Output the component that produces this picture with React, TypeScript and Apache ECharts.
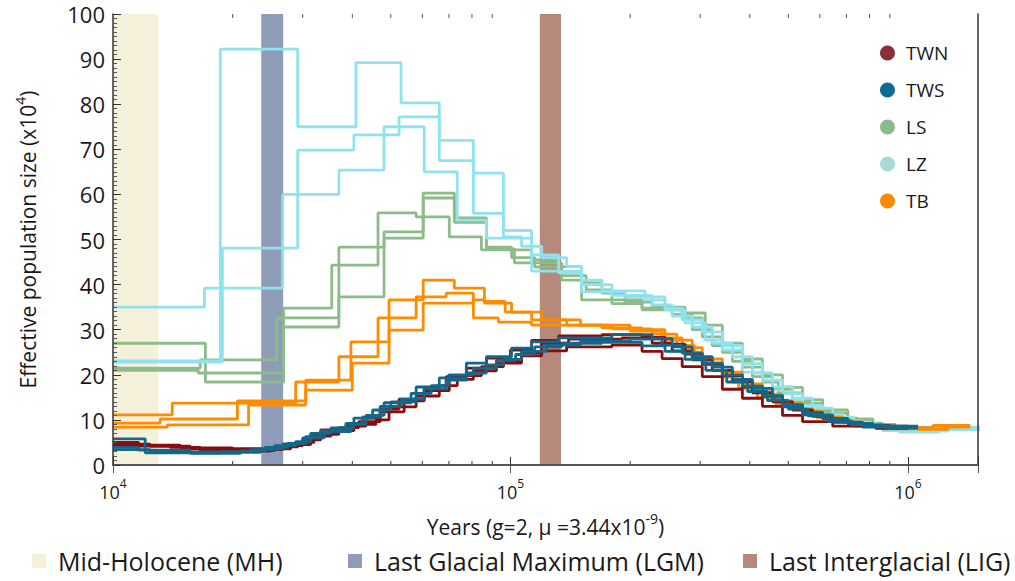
import React, { useEffect, useRef } from "react";
import * as echarts from "echarts";

// ---------- axis ranges & ticks ----------
const X_MIN = 10000;
const X_MAX = 1500000;
const Y_MIN = 0;
const Y_MAX = 100;
const Y_INTERVAL = 10;
const MINOR_X_TICKS = [
  20000, 30000, 40000, 50000, 60000, 70000, 80000, 90000,
  200000, 300000, 400000, 500000, 600000, 700000, 800000, 900000,
];

// ---------- climate periods (years) ----------
const MH_NAME = "Mid-Holocene (MH)";
const LGM_NAME = "Last Glacial Maximum (LGM)";
const LIG_NAME = "Last Interglacial (LIG)";
const MH_RANGE = [10000, 13000];
const LGM_RANGE = [23600, 26800];
const LIG_RANGE = [118500, 134000];

// ---------- PSMC step curves: [years, Ne (x10^4)] ----------
const TWN_1: [number, number][] = [
  [10000, 4.6], [12400, 4.2], [15640, 3.6], [23500, 3.4], [26720, 4.3], [30000, 5.6],
  [33320, 7.8], [38530, 8.6], [43270, 10.4], [47000, 12.4], [52440, 14.6], [60660, 16.9],
  [68900, 19.6], [77430, 21.5], [86960, 23.7], [100000, 25.5], [113000, 27.6], [132100, 28.6],
  [169800, 28.9], [214200, 28.3], [244700, 26.8], [274900, 24.6], [303700, 22.3], [341100, 19.8],
  [383100, 17.3], [430300, 15.2], [483300, 13.2], [542900, 11.6], [610000, 10.3], [705500, 9.2],
  [815800, 8.6], [1000000, 8.6],
];
const TWN_2: [number, number][] = [
  [10000, 4.2], [13930, 3.9], [16580, 3.1], [24900, 3.6], [27990, 4.5], [31410, 6.4],
  [35320, 7.6], [40370, 9.0], [45870, 10.0], [49480, 12.9], [57890, 15.3], [66200, 17.6],
  [73450, 19.8], [84500, 21.8], [96000, 23.1], [106600, 24.2], [119800, 25.3], [138400, 26.2],
  [179900, 26.6], [214200, 25.2], [240600, 23.6], [270300, 21.8], [303700, 19.6], [341100, 16.8],
  [383100, 14.8], [430300, 13.0], [483300, 11.0], [542900, 9.6], [646500, 8.6], [830000, 8.1],
  [1000000, 8.1],
];
const TWN_3: [number, number][] = [
  [10000, 5.0], [11600, 4.4], [14760, 3.8], [20000, 3.2], [25500, 4.0], [29150, 5.0],
  [32000, 6.8], [37000, 8.3], [41500, 9.6], [47000, 11.8], [54000, 14.2], [60660, 16.5],
  [70150, 19.0], [80640, 20.9], [92170, 22.6], [106600, 24.8], [119800, 27.0], [140000, 27.9],
  [190700, 28.2], [227100, 27.0], [255000, 25.3], [286500, 23.3], [321800, 21.0], [361500, 18.5],
  [406100, 16.0], [456100, 14.0], [512300, 12.2], [575500, 10.8], [646500, 9.5], [730000, 8.7],
  [900000, 8.3], [1000000, 8.3],
];
const TWS_1: [number, number][] = [
  [10000, 5.8], [12050, 2.7], [18620, 2.9], [22180, 3.4], [25500, 4.3], [28810, 5.2],
  [31410, 7.0], [35320, 8.2], [40370, 10.4], [45000, 12.2], [50000, 14.0], [57890, 17.3],
  [66200, 19.3], [77430, 22.6], [86960, 24.0], [100600, 25.9], [113000, 27.3], [132100, 28.2],
  [179900, 28.9], [227100, 28.0], [255000, 26.2], [286500, 24.0], [321800, 21.7], [361500, 19.0],
  [406100, 17.0], [456100, 14.5], [483300, 12.9], [542900, 11.1], [646500, 9.5], [769700, 8.4],
  [890300, 8.2], [1060000, 8.2],
];
const TWS_2: [number, number][] = [
  [10000, 3.9], [11600, 3.3], [15640, 2.6], [20930, 3.1], [24100, 3.9], [27500, 4.8],
  [30530, 6.3], [33320, 7.6], [38530, 9.2], [42400, 10.6], [47000, 13.0], [53050, 14.6],
  [60660, 16.9], [68900, 18.8], [77430, 20.4], [86960, 22.2], [96000, 23.4], [106600, 25.2],
  [123000, 26.6], [150000, 27.5], [200000, 27.9], [240600, 26.6], [270300, 24.8], [303700, 22.6],
  [341100, 20.0], [383100, 17.5], [430300, 15.4], [483300, 13.4], [542900, 11.6], [610000, 10.3],
  [705500, 9.2], [815800, 8.6], [1060000, 8.6],
];
const TWS_3: [number, number][] = [
  [10000, 3.4], [12400, 2.9], [17580, 2.8], [23500, 3.6], [26720, 4.7], [30000, 6.0],
  [34000, 7.4], [39670, 9.0], [43270, 11.0], [48060, 13.8], [56230, 15.9], [63170, 17.6],
  [70000, 20.0], [80640, 21.5], [92170, 23.2], [103000, 24.5], [115000, 26.2], [134500, 27.0],
  [169800, 27.2], [214200, 26.4], [244700, 25.2], [274900, 23.4], [310000, 21.0], [350000, 18.4],
  [395000, 16.3], [443000, 14.3], [500000, 12.4], [560000, 10.9], [630000, 9.7], [720000, 8.9],
  [870000, 8.4], [1060000, 8.4],
];
const LS_1: [number, number][] = [
  [10000, 27.0], [17080, 18.4], [26870, 34.8], [35510, 44.3], [46420, 55.9], [57890, 55.0],
  [70150, 50.6], [84500, 47.7], [100600, 46.0], [115000, 44.8], [134500, 41.0], [151000, 36.6],
  [179900, 35.8], [214200, 34.4], [270300, 32.6], [303700, 28.4], [341100, 25.0], [383100, 21.7],
  [430300, 18.4], [472000, 16.0], [542900, 13.7], [610000, 11.5], [705500, 10.0], [815800, 8.9],
  [890300, 8.2], [1060000, 8.2],
];
const LS_2: [number, number][] = [
  [10000, 21.5], [16580, 23.3], [25800, 32.6], [37000, 48.3], [48060, 51.7], [60300, 60.3],
  [72220, 54.8], [86980, 48.3], [100600, 47.7], [113000, 45.5], [132100, 44.0], [151000, 40.4],
  [169800, 38.1], [194100, 36.1], [227100, 35.0], [274900, 33.7], [309000, 31.0], [341100, 27.0],
  [383100, 23.5], [430300, 20.0], [483300, 17.2], [542900, 14.5], [610000, 12.2], [705500, 10.2],
  [815800, 9.0], [930000, 8.3], [1156000, 8.3],
];
const LS_3: [number, number][] = [
  [10000, 21.0], [16390, 20.4], [26870, 30.6], [37000, 37.3], [48060, 50.3], [60300, 59.2],
  [72220, 53.8], [86980, 47.9], [102300, 44.8], [115000, 43.9], [134500, 42.0], [155000, 38.8],
  [180000, 36.6], [214200, 34.8], [255000, 33.4], [286500, 30.0], [321800, 26.5], [361500, 23.0],
  [406100, 19.6], [456100, 16.8], [512300, 14.2], [575500, 12.0], [646500, 10.4], [745000, 9.3],
  [860000, 8.5], [1000000, 8.3], [1156000, 8.3],
];
const LZ_1: [number, number][] = [
  [10000, 35.0], [16980, 39.2], [26720, 60.0], [37000, 65.4], [48060, 75.0], [60660, 65.0],
  [73450, 54.3], [86960, 50.3], [113000, 46.6], [132100, 42.9], [151000, 38.4], [194100, 37.3],
  [244700, 34.4], [274900, 31.5], [309000, 27.7], [341100, 25.5], [383100, 20.6], [430300, 16.6],
  [483300, 14.4], [543000, 12.2], [610000, 10.4], [705000, 9.2], [815800, 8.4], [1000000, 8.0],
  [1300000, 8.4], [1529000, 8.4],
];
const LZ_2: [number, number][] = [
  [10000, 23.1], [18620, 92.2], [29150, 75.0], [40840, 89.2], [53050, 80.3], [66200, 67.5],
  [80640, 64.7], [96000, 50.6], [106600, 48.5], [119800, 46.0], [138400, 44.0], [151000, 41.0],
  [169800, 38.6], [217900, 36.6], [244700, 34.8], [270300, 32.2], [303700, 29.5], [341100, 26.5],
  [383100, 22.5], [430300, 18.8], [483300, 15.8], [543000, 13.2], [610000, 11.2], [685000, 9.8],
  [769000, 8.6], [864000, 7.6], [1060000, 7.5], [1260000, 8.0], [1529000, 8.0],
];
const LZ_3: [number, number][] = [
  [10000, 22.8], [18840, 48.1], [29150, 69.8], [40370, 73.2], [52440, 77.2], [66200, 72.0],
  [80640, 55.8], [96000, 52.0], [113000, 43.0], [132100, 42.6], [151000, 40.0], [180000, 37.6],
  [227100, 35.5], [255000, 33.0], [286500, 30.6], [321800, 27.0], [361500, 24.0], [406100, 20.4],
  [456100, 17.4], [512300, 14.8], [575500, 12.6], [646500, 10.6], [730000, 9.2], [830000, 8.2],
  [950000, 7.3], [1200000, 7.8], [1529000, 8.2],
];
const TB_1: [number, number][] = [
  [10000, 11.1], [14090, 13.7], [28810, 18.4], [37000, 24.0], [46420, 32.6], [57890, 37.3],
  [68900, 38.1], [80640, 32.6], [93260, 31.7], [113000, 31.0], [169800, 30.4], [214200, 30.0],
  [244700, 27.7], [286500, 25.0], [303700, 22.6], [341100, 19.5], [375000, 17.0], [418000, 15.0],
  [465000, 13.5], [542900, 12.0], [590000, 10.5], [660000, 9.5], [760000, 8.6], [864000, 8.0],
  [1156000, 8.6], [1434000, 8.6],
];
const TB_2: [number, number][] = [
  [10000, 9.3], [13140, 10.2], [20560, 14.2], [30530, 18.8], [39670, 27.3], [49480, 36.6],
  [60300, 41.0], [72220, 39.2], [85970, 36.3], [97000, 33.9], [113000, 32.2], [138400, 31.0],
  [179900, 30.2], [227100, 29.0], [262000, 26.5], [290000, 23.8], [321800, 21.0], [361500, 18.4],
  [406100, 16.2], [456100, 14.2], [512300, 12.5], [575500, 11.0], [646500, 9.8], [730000, 8.9],
  [830000, 8.3], [1000000, 8.2], [1156000, 8.8], [1434000, 8.8],
];
const TB_3: [number, number][] = [
  [10000, 8.4], [13700, 8.9], [21930, 13.3], [30530, 16.6], [40000, 22.6], [49480, 29.9],
  [60300, 35.9], [80640, 36.6], [86000, 35.9], [100600, 33.9], [119800, 32.2], [150000, 31.0],
  [200000, 29.7], [240600, 28.2], [270300, 26.0], [303700, 23.5], [341100, 20.6], [383100, 18.0],
  [430300, 15.7], [483300, 13.8], [542900, 12.0], [610000, 10.6], [685000, 9.5], [769700, 8.7],
  [890000, 8.1], [1060000, 7.9], [1260000, 8.4], [1434000, 8.4],
];

const POPULATIONS = ["TWN", "TWS", "LS", "LZ", "TB"];
const REPLICATES: Record<string, [number, number][][]> = {
  TWN: [TWN_1, TWN_2, TWN_3],
  TWS: [TWS_1, TWS_2, TWS_3],
  LS: [LS_1, LS_2, LS_3],
  LZ: [LZ_1, LZ_2, LZ_3],
  TB: [TB_1, TB_2, TB_3],
};
const DRAW_ORDER = ["LS", "LZ", "TB", "TWN", "TWS"];

// ---------- styles ----------
const FONT = "'Open Sans', 'Noto Sans', sans-serif";
const TEXT = "#1a1a1a";
const AXIS = "#333";
const LINE_COLORS: Record<string, string> = {
  TWN: "#8c0b0b",
  TWS: "#13688a",
  LS: "#8dbb8a",
  LZ: "#8ee3ee",
  TB: "#ff8c00",
};
const LEGEND_COLORS: Record<string, string> = {
  TWN: "#8b2e37",
  TWS: "#0e6a8e",
  LS: "#8dba8a",
  LZ: "#a6dad7",
  TB: "#ff8a00",
};
const BAND_COLORS: Record<string, string> = {
  [MH_NAME]: "#f5f0da",
  [LGM_NAME]: "#8e9cb8",
  [LIG_NAME]: "#b7897b",
};

export default function App() {
  const ref = useRef<HTMLDivElement>(null);

  useEffect(() => {
    if (!ref.current) return;
    const chart = echarts.init(ref.current, undefined, { renderer: "svg" });

    const bands: [string, number[]][] = [
      [MH_NAME, MH_RANGE],
      [LGM_NAME, LGM_RANGE],
      [LIG_NAME, LIG_RANGE],
    ];

    const bandSeries = bands.map(([name, range]) => ({
      type: "line",
      name,
      data: [],
      z: 1,
      silent: true,
      itemStyle: { color: BAND_COLORS[name] },
      lineStyle: { color: BAND_COLORS[name] },
      markArea: {
        silent: true,
        label: { show: false },
        itemStyle: { color: BAND_COLORS[name], opacity: 1 },
        data: [[{ xAxis: range[0] }, { xAxis: range[1] }]],
      },
    }));

    const lineSeries: any[] = [];
    DRAW_ORDER.forEach((pop) => {
      REPLICATES[pop].forEach((rep) => {
        lineSeries.push({
          type: "line",
          name: pop,
          data: rep,
          step: "end",
          symbol: "none",
          showSymbol: false,
          silent: true,
          z: 3,
          itemStyle: { color: LEGEND_COLORS[pop] },
          lineStyle: { color: LINE_COLORS[pop], width: 2.8 },
        });
      });
    });

    const tickSeries = {
      type: "custom",
      name: "minor-ticks",
      coordinateSystem: "cartesian2d",
      data: MINOR_X_TICKS.map((v) => [v, Y_MIN]),
      encode: { x: 0, y: 1 },
      z: 10,
      silent: true,
      clip: false,
      renderItem: (_params: any, api: any) => {
        const v = api.value(0);
        const b = api.coord([v, Y_MIN]);
        const t = api.coord([v, Y_MAX]);
        return {
          type: "group",
          children: [
            { type: "line", shape: { x1: b[0], y1: b[1], x2: b[0], y2: b[1] - 4 }, style: { stroke: AXIS, lineWidth: 1 } },
            { type: "line", shape: { x1: t[0], y1: t[1], x2: t[0], y2: t[1] + 4 }, style: { stroke: "#555", lineWidth: 1 } },
          ],
        };
      },
    };

    const powLabel = (v: number) => {
      const e = Math.round(Math.log10(v));
      return Math.abs(Math.pow(10, e) - v) < v * 1e-6 ? `{b|10}{s|${e}}` : "";
    };

    const bandLegend = (name: string, left: number) => ({
      data: [{ name, icon: "rect", itemStyle: { color: BAND_COLORS[name], borderWidth: 0 } }],
      left,
      top: 548,
      padding: 0,
      itemWidth: 14,
      itemHeight: 14,
      selectedMode: false,
      textStyle: { fontSize: 25, lineHeight: 26, color: TEXT, fontFamily: FONT, padding: [0, 0, 0, 7] },
    });

    const option: any = {
      animation: false,
      backgroundColor: "#ffffff",
      grid: { left: 113, right: 37, top: 14, bottom: 116 },
      legend: [
        {
          orient: "vertical",
          left: 880,
          top: 43,
          padding: 0,
          itemWidth: 15,
          itemHeight: 15,
          itemGap: 17,
          selectedMode: false,
          textStyle: { fontSize: 19, lineHeight: 20, color: TEXT, fontFamily: FONT, padding: [0, 0, 0, 6] },
          data: POPULATIONS.map((p) => ({
            name: p,
            icon: "circle",
            itemStyle: { color: LEGEND_COLORS[p], borderWidth: 0 },
          })),
        },
        bandLegend(MH_NAME, 32),
        bandLegend(LGM_NAME, 348),
        bandLegend(LIG_NAME, 743),
      ],
      xAxis: [
        {
          type: "log",
          logBase: 10,
          min: X_MIN,
          max: X_MAX,
          position: "bottom",
          z: 10,
          axisLine: { show: true, lineStyle: { color: AXIS, width: 1.5 } },
          axisTick: { show: true, inside: true, length: 8, lineStyle: { color: AXIS, width: 1 } },
          splitLine: { show: false },
          axisLabel: {
            margin: 12,
            formatter: powLabel,
            rich: {
              b: { fontSize: 18, fontFamily: FONT, color: TEXT, lineHeight: 24, verticalAlign: "bottom" },
              s: { fontSize: 12, fontFamily: FONT, color: TEXT, lineHeight: 24, verticalAlign: "top", padding: [0, 0, 8, 0] },
            },
          },
          name: "{a|Years (g=2, μ =3.44x10}{s|-9}{a|)}",
          nameLocation: "middle",
          nameGap: 46,
          nameTextStyle: {
            rich: {
              a: { fontSize: 21, fontFamily: FONT, color: TEXT, lineHeight: 26, verticalAlign: "bottom" },
              s: { fontSize: 14, fontFamily: FONT, color: TEXT, lineHeight: 26, verticalAlign: "top", padding: [0, 0, 9, 0] },
            },
          },
        },
        {
          type: "log",
          logBase: 10,
          min: X_MIN,
          max: X_MAX,
          position: "top",
          z: 10,
          axisLine: { show: true, lineStyle: { color: "#555", width: 1.5 } },
          axisTick: { show: true, inside: true, length: 8, lineStyle: { color: "#555", width: 1 } },
          axisLabel: { show: false },
          splitLine: { show: false },
        },
      ],
      yAxis: [
        {
          type: "value",
          min: Y_MIN,
          max: Y_MAX,
          interval: Y_INTERVAL,
          position: "left",
          z: 10,
          axisLine: { show: true, lineStyle: { color: AXIS, width: 1.5 } },
          axisTick: { show: true, inside: true, length: 8, lineStyle: { color: AXIS, width: 1 } },
          minorTick: { show: true, splitNumber: 10, length: 4, lineStyle: { color: "#555", width: 1 } },
          splitLine: { show: false },
          axisLabel: { margin: 8, fontSize: 22, fontFamily: FONT, color: TEXT },
          name: "{a|Effective population size (x10}{s|4}{a|)}",
          nameLocation: "middle",
          nameGap: 75,
          nameTextStyle: {
            rich: {
              a: { fontSize: 21, fontFamily: FONT, color: TEXT, lineHeight: 25, verticalAlign: "bottom" },
              s: { fontSize: 14, fontFamily: FONT, color: TEXT, lineHeight: 25, verticalAlign: "top", padding: [0, 0, 8, 0] },
            },
          },
        },
        {
          type: "value",
          min: Y_MIN,
          max: Y_MAX,
          position: "right",
          z: 10,
          axisLine: { show: true, lineStyle: { color: AXIS, width: 1.5 } },
          axisTick: { show: false },
          axisLabel: { show: false },
          splitLine: { show: false },
        },
      ],
      series: [...bandSeries, ...lineSeries, tickSeries],
    };

    chart.setOption(option);
    return () => chart.dispose();
  }, []);

  return (
    <div
      ref={ref}
      style={{ position: "absolute", left: 0, top: 0, width: 1015, height: 581, background: "#fff" }}
    />
  );
}
